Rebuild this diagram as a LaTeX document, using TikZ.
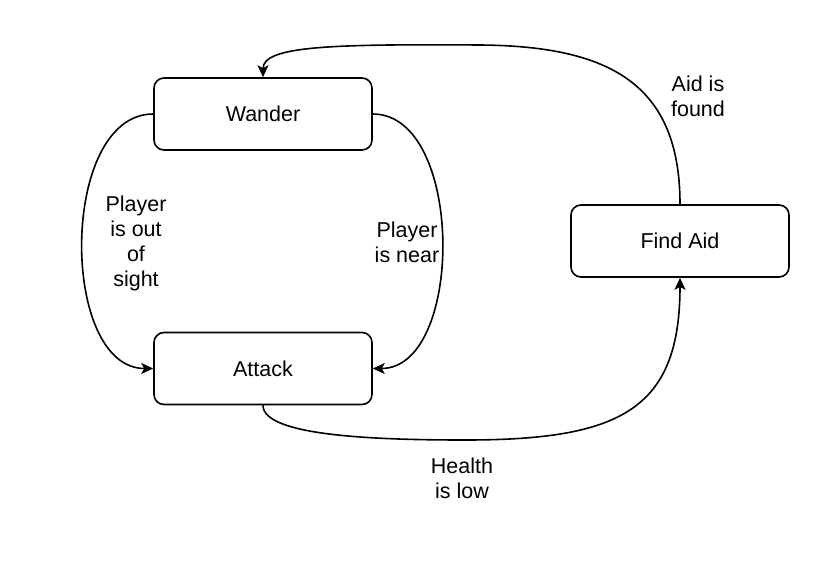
\documentclass[tikz,border=0pt]{standalone}
\usepackage{fontspec}
\setmainfont{Liberation Sans}
\usetikzlibrary{arrows.meta}
\begin{document}
\begin{tikzpicture}[x=1pt,y=-1pt,
  state/.style={draw, line width=1.6pt, rounded corners=10pt, minimum width=218pt, minimum height=72pt, inner sep=0pt, font=\fontsize{21.5}{25}\selectfont},
  lbl/.style={align=center, inner sep=0pt, font=\fontsize{21.5}{25}\selectfont},
  edge/.style={line width=1.6pt, -{Stealth[length=12pt,width=11pt,inset=3pt]}}]
\useasboundingbox (0,0) rectangle (814,568);
\node[state] (w) at (263,114) {Wander};
\node[state] (a) at (263,368.5) {Attack};
\node[state] (f) at (680,241) {Find Aid};
\draw[edge] (w.west) .. controls +(-94,0) and +(-94,0) .. (a.west);
\draw[edge] (w.east) .. controls +(92,0) and +(92,0) .. (a.east);
\draw[edge] (a.south) .. controls +(0,30) and (370,440) .. (465,440)
  .. controls (620,440) and (680,410) .. (f.south);
\draw[edge] (f.north) .. controls +(0,-120) and (610,46) .. (480,45)
  .. controls (330,44) and (263,46) .. (w.north);
\node[lbl] (l1) at (136,243) {Player\\is out\\of\\sight};
\node[lbl] (l2) at (407,242) {Player\\is near};
\node[lbl] (l3) at (462,478) {Health\\is low};
\node[lbl] (l4) at (698,96) {Aid is\\found};
\end{tikzpicture}
\end{document}
